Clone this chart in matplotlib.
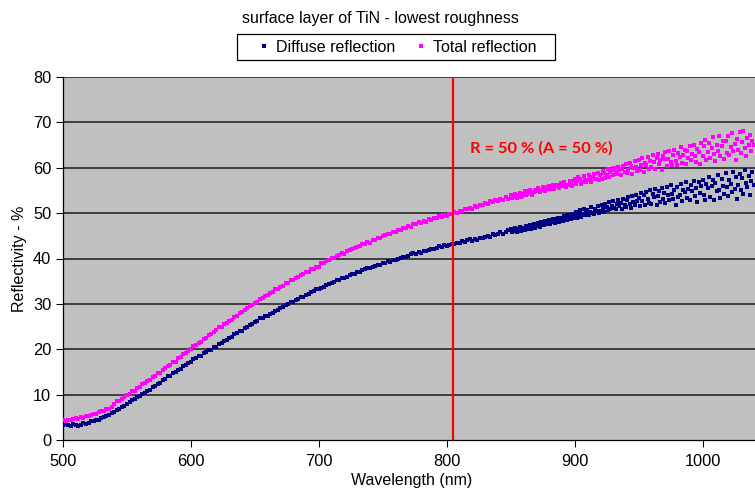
import numpy as np
import matplotlib
matplotlib.use("Agg")
import matplotlib.pyplot as plt
from matplotlib.patches import Rectangle

plt.rcParams['font.family'] = ['Liberation Sans', 'DejaVu Sans']

# Wavelength grid (nm): 2 nm step below 850 nm, 1 nm step above
wavelength = np.concatenate([np.arange(500, 850, 2), np.arange(850, 1041, 1)])

# Total reflection (%)
total = [
    # 500-848 nm, 2 nm step
    4.4, 4.1, 4.5, 4.3, 4.6, 4.8, 4.6, 5.0, 4.9, 5.2,
    5.3, 5.6, 5.8, 5.7, 6.1, 6.5, 6.4, 6.8, 6.9, 7.2,
    7.9, 8.5, 8.6, 9.1, 9.4, 10.0, 10.2, 10.7, 10.9, 11.5,
    11.7, 12.3, 12.5, 13.0, 13.2, 13.8, 14.1, 14.7, 14.8, 15.5,
    15.8, 16.4, 16.6, 17.2, 17.3, 18.0, 18.3, 18.9, 19.1, 19.7,
    20.1, 20.7, 20.9, 21.4, 21.6, 22.3, 22.5, 23.1, 23.3, 23.9,
    24.2, 24.8, 25.0, 25.5, 25.7, 26.2, 26.5, 27.1, 27.3, 27.9,
    28.2, 28.7, 29.0, 29.5, 29.7, 30.3, 30.5, 31.1, 31.2, 31.7,
    31.9, 32.5, 32.6, 33.2, 33.3, 33.8, 34.0, 34.5, 34.6, 35.2,
    35.3, 35.8, 35.9, 36.4, 36.5, 37.0, 37.1, 37.6, 37.7, 38.2,
    38.2, 38.9, 39.0, 39.4, 39.6, 40.1, 40.2, 40.6, 40.7, 41.2,
    41.1, 41.7, 41.8, 42.1, 42.3, 42.6, 42.7, 43.2, 43.1, 43.6,
    43.5, 44.1, 44.0, 44.5, 44.6, 44.9, 45.1, 45.5, 45.4, 45.9,
    45.8, 46.2, 46.3, 46.7, 46.8, 47.1, 47.0, 47.6, 47.5, 48.0,
    47.8, 48.2, 48.1, 48.6, 48.5, 49.0, 48.9, 49.3, 49.2, 49.6,
    49.4, 49.9, 49.8, 50.2, 50.1, 50.5, 50.4, 50.9, 50.8, 51.2,
    50.9, 51.5, 51.3, 51.9, 51.7, 52.3, 52.0, 52.7, 52.4, 53.0,
    52.6, 53.1, 53.0, 53.5, 53.2,
    # 850-1040 nm, 1 nm step
    53.9, 53.3, 53.5, 54.2, 54.0, 53.4, 53.7, 54.4, 53.6, 53.8,
    54.3, 54.9, 54.0, 54.2, 54.8, 55.0, 54.4, 54.1, 54.7, 55.2,
    54.8, 55.5, 55.1, 54.7, 55.0, 55.7, 55.6, 54.9, 55.3, 55.8,
    56.0, 55.3, 55.6, 56.2, 55.4, 55.9, 56.3, 56.1, 55.5, 56.6,
    56.0, 56.5, 56.8, 55.8, 56.3, 56.2, 57.0, 56.6, 56.0, 57.1,
    57.5, 56.4, 57.0, 57.9, 57.6, 56.5, 56.9, 58.1, 57.3, 56.8,
    57.2, 58.4, 57.8, 56.9, 58.0, 58.7, 57.5, 57.6, 58.9, 57.3,
    58.4, 57.6, 59.2, 58.9, 57.8, 58.5, 59.7, 58.0, 59.0, 59.5,
    58.3, 59.9, 59.1, 58.6, 60.2, 59.4, 58.4, 59.8, 60.4, 59.0,
    60.8, 58.9, 59.6, 61.1, 60.3, 58.7, 59.9, 61.4, 60.1, 59.2,
    61.7, 59.6, 60.5, 62.2, 59.1, 61.0, 60.6, 62.4, 59.8, 61.5,
    60.2, 62.8, 61.3, 59.7, 62.1, 63.1, 60.8, 61.6, 59.5, 62.6,
    61.9, 63.4, 60.4, 62.0, 63.7, 61.2, 60.6, 62.9, 63.9, 61.5,
    60.7, 63.3, 62.4, 64.5, 61.1, 62.8, 64.0, 60.9, 63.6, 62.2,
    64.7, 61.8, 63.0, 65.1, 62.5, 61.3, 64.2, 63.5, 60.8, 65.4,
    62.6, 64.8, 66.2, 61.7, 63.4, 65.5, 62.1, 64.3, 66.7, 63.0,
    61.4, 65.0, 63.8, 67.1, 62.6, 64.7, 66.0, 61.9, 65.8, 63.3,
    66.9, 62.8, 64.5, 67.6, 63.6, 65.3, 61.8, 66.4, 64.0, 67.9,
    63.2, 65.7, 68.1, 64.3, 62.5, 66.6, 65.0, 67.3, 63.8, 66.0,
    65.1,
]

# Diffuse reflection (%)
diffuse = [
    # 500-848 nm, 2 nm step
    3.2, 3.6, 3.4, 3.1, 3.5, 3.3, 3.0, 3.4, 3.7, 3.5,
    3.8, 4.2, 4.1, 4.5, 4.4, 4.9, 5.0, 5.3, 5.4, 5.9,
    6.1, 6.6, 6.8, 7.2, 7.5, 8.0, 8.3, 8.8, 9.0, 9.5,
    9.6, 10.2, 10.4, 10.9, 11.1, 11.6, 11.9, 12.4, 12.6, 13.2,
    13.4, 14.0, 14.2, 14.7, 14.9, 15.5, 15.7, 16.3, 16.5, 17.0,
    17.2, 17.8, 18.0, 18.5, 18.6, 19.2, 19.3, 19.8, 19.9, 20.5,
    20.6, 21.1, 21.3, 21.8, 22.0, 22.4, 22.7, 23.3, 23.5, 24.1,
    24.1, 24.6, 24.9, 25.4, 25.6, 25.9, 26.3, 26.8, 26.9, 27.3,
    27.3, 27.8, 28.0, 28.5, 28.6, 29.0, 29.3, 29.8, 29.9, 30.4,
    30.4, 30.9, 31.0, 31.5, 31.6, 31.9, 32.2, 32.7, 32.8, 33.2,
    33.2, 33.6, 33.8, 34.2, 34.3, 34.6, 34.8, 35.2, 35.3, 35.7,
    35.7, 36.0, 36.3, 36.5, 36.6, 37.0, 37.1, 37.5, 37.6, 37.9,
    37.9, 38.2, 38.3, 38.6, 38.5, 38.9, 39.1, 39.4, 39.3, 39.7,
    39.6, 40.0, 40.1, 40.3, 40.4, 40.6, 40.9, 41.2, 41.0, 41.5,
    41.3, 41.6, 41.7, 41.9, 42.0, 42.2, 42.3, 42.7, 42.5, 42.9,
    42.7, 43.0, 43.1, 43.2, 43.5, 43.4, 43.8, 43.6, 44.0, 44.2,
    43.9, 44.3, 44.1, 44.6, 44.5, 44.8, 45.0, 44.8, 45.4, 45.2,
    45.3, 45.8, 45.5, 45.9, 46.2,
    # 850-1040 nm, 1 nm step
    46.4, 45.8, 46.1, 46.7, 46.3, 45.9, 46.5, 46.9, 46.0, 46.2,
    46.8, 46.3, 47.1, 46.6, 46.9, 47.4, 46.5, 47.0, 47.6, 46.8,
    47.2, 47.9, 47.4, 46.9, 48.1, 47.6, 47.3, 48.3, 47.8, 47.5,
    48.4, 47.7, 48.0, 48.8, 48.2, 47.9, 48.6, 49.0, 48.1, 48.5,
    48.9, 48.3, 49.4, 48.7, 48.4, 49.6, 49.1, 48.6, 49.8, 49.0,
    49.4, 50.3, 48.9, 49.8, 50.6, 49.2, 49.7, 50.9, 49.5, 50.1,
    50.7, 49.6, 50.2, 51.3, 50.0, 49.8, 51.0, 50.4, 51.6, 50.1,
    50.5, 51.8, 51.1, 50.2, 52.1, 51.4, 50.7, 52.4, 51.0, 51.5,
    52.6, 51.2, 50.9, 52.0, 53.0, 51.6, 52.3, 51.0, 53.2, 51.9,
    51.4, 52.9, 53.6, 52.1, 51.2, 53.8, 52.5, 51.8, 54.0, 52.7,
    53.3, 51.5, 54.4, 52.6, 53.9, 51.9, 54.7, 53.1, 52.3, 55.0,
    52.0, 54.2, 53.5, 55.3, 51.7, 53.8, 54.9, 52.5, 55.6, 53.2,
    54.5, 52.2, 55.8, 53.9, 52.8, 56.1, 54.3, 53.1, 55.2, 51.9,
    55.7, 53.6, 54.0, 56.5, 52.7, 55.1, 54.6, 56.8, 53.3, 55.4,
    52.8, 56.2, 54.9, 57.1, 53.8, 55.6, 52.4, 56.9, 54.5, 55.9,
    57.4, 54.1, 53.0, 56.4, 55.5, 58.0, 53.6, 55.9, 57.2, 52.9,
    56.7, 54.8, 58.4, 55.2, 53.4, 57.6, 56.0, 54.3, 58.9, 55.7,
    53.8, 57.3, 56.5, 54.6, 59.1, 55.4, 57.9, 53.2, 56.2, 58.6,
    55.0, 57.7, 54.2, 59.4, 56.6, 55.8, 58.1, 53.9, 57.0, 59.0,
    56.3,
]

marker_wavelength = 805  # wavelength where R = 50 %
annotation = "R = 50 % (A = 50 %)"
y_ticks = [0, 10, 20, 30, 40, 50, 60, 70, 80]
x_ticks = [500, 600, 700, 800, 900, 1000]

W, H = 755, 492
fig = plt.figure(figsize=(W / 100, H / 100), dpi=100)
ax = fig.add_axes([63 / W, 52 / H, 692 / W, 363 / H])
ax.set_facecolor("#C0C0C0")

for y in y_ticks[1:]:
    ax.axhline(y, color="#1a1a1a", lw=1.1, zorder=1)

wl = np.asarray(wavelength)
dense = wl < 850
series = [(diffuse, "#000080", "Diffuse reflection"),
          (total, "#FF00FF", "Total reflection")]
for vals, col, lab in series:
    v = np.asarray(vals)
    ax.plot(wl[dense], v[dense], ls="none", marker="s", ms=2.6, mew=0,
            color=col, zorder=3)
    ax.plot(wl[~dense], v[~dense], ls="none", marker="s", ms=2.3, mew=0,
            color=col, zorder=3, label=lab)

ax.axvline(marker_wavelength, color="#FF0000", lw=1.6, zorder=4)
ax.text(818, 64.3, annotation, color="#FF0000", fontsize=11.8,
        fontweight="bold", family=["Lato", "DejaVu Sans"], va="center",
        ha="left", zorder=5)

ax.set_xlim(500, 1041)
ax.set_ylim(0, 80)
ax.set_xticks(x_ticks)
ax.set_yticks(y_ticks)
ax.tick_params(axis="both", direction="out", length=5, width=0.8,
               labelsize=11.8, color="#000000")
ax.tick_params(axis="x", pad=5)

for side in ("top", "right"):
    ax.spines[side].set_visible(False)
for side in ("left", "bottom"):
    ax.spines[side].set_color("#000000")
    ax.spines[side].set_linewidth(0.9)

ax.set_xlabel("Wavelength (nm)", fontsize=11.5)
ax.set_ylabel("Reflectivity - %", fontsize=11.5)
ax.xaxis.set_label_coords((412 - 63) / 692, -(481 - 440) / 363, transform=ax.transAxes)
ax.yaxis.set_label_coords(-(63 - 20) / 692, 0.5, transform=ax.transAxes)
ax.xaxis.label.set_va("center")
ax.yaxis.label.set_va("center")

fig.text(380 / W, 1 - 18 / H, "surface layer of TiN - lowest roughness",
         ha="center", va="center", fontsize=11.5)

leg = fig.legend(loc="center", bbox_to_anchor=(398 / W, 1 - 47 / H),
                 ncol=2, frameon=False, fontsize=11.5, markerscale=1.0,
                 handlelength=0.6, handletextpad=0.45, columnspacing=1.3,
                 borderpad=0.2)
fig.patches.append(Rectangle((237 / W, 1 - 60 / H), (555 - 237) / W, 26 / H,
                             transform=fig.transFigure, fill=False,
                             edgecolor="#000000", lw=0.9))

fig.savefig("out.png", dpi=100)
